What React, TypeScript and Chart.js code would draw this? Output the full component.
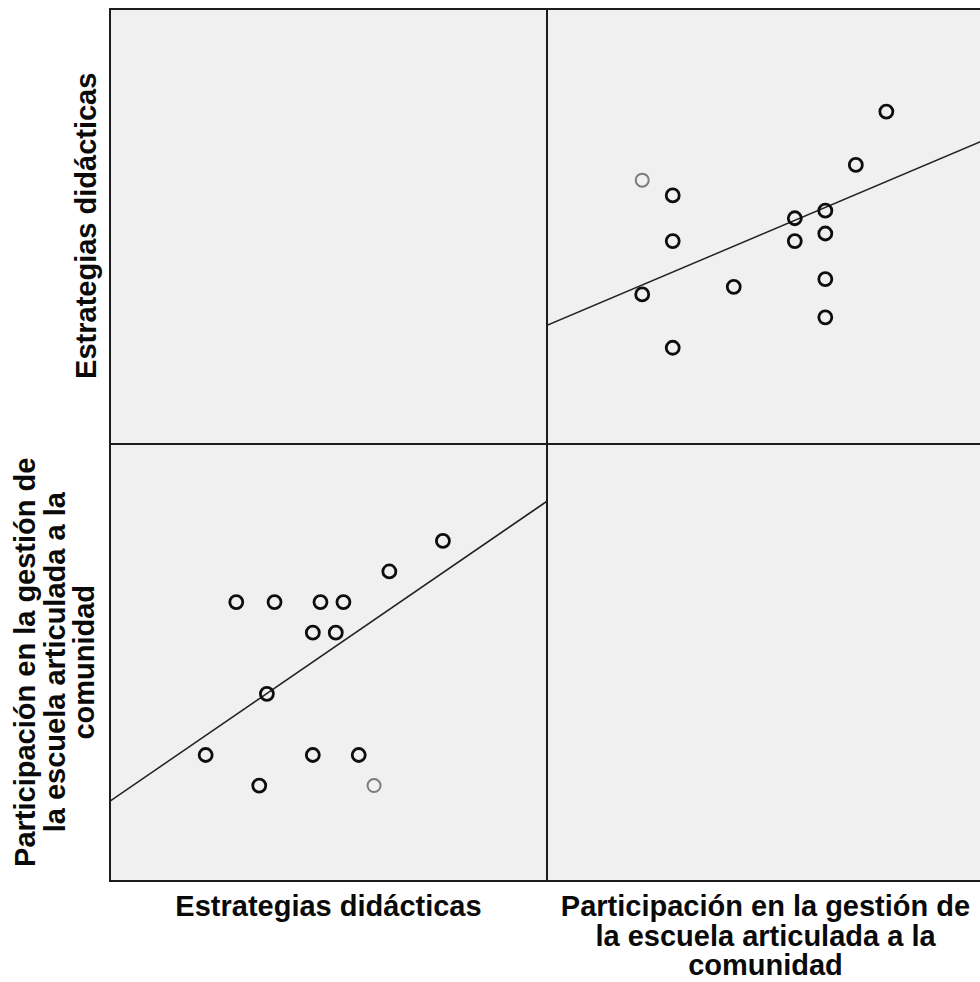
import React, { useEffect, useRef } from "react";
import { Chart, registerables } from "chart.js";

Chart.register(...registerables);

// ---- Data (one entry per plotted case) ----
const estrategias = [49, 54, 60, 63, 59, 62, 69, 76, 53, 45, 59, 65, 52, 67];
const participacion = [26, 26, 26, 26, 25, 25, 27, 28, 23, 21, 21, 21, 20, 20];
// number of overlapping cases drawn at each marker (darker when >1)
const caseCounts = [2, 2, 2, 2, 2, 2, 2, 2, 2, 2, 2, 2, 2, 1];

// ---- Axis ranges (hidden axes in the SPSS matrix) ----
const estrategiasRange = [32.5, 89.6];
const participacionRange = [16.88, 31.2];

// ---- Linear fit lines ----
const fitParticipacionOnEstrategias = { intercept: 13.907, slope: 0.17175 };
const fitEstrategiasOnParticipacion = { intercept: 19.3, slope: 1.697 };

// ---- Labels ----
const estrategiasTitle = ["Estrategias didácticas"];
const participacionTitle = [
  "Participación en la gestión de",
  "la escuela articulada a la",
  "comunidad",
];

type Fit = { intercept: number; slope: number };

function ScatterPanel(props: {
  left: number;
  top: number;
  width: number;
  height: number;
  xs: number[];
  ys: number[];
  counts: number[];
  xRange: number[];
  yRange: number[];
  fit: Fit;
}) {
  const ref = useRef<HTMLCanvasElement | null>(null);
  const { left, top, width, height, xs, ys, counts, xRange, yRange, fit } = props;
  useEffect(() => {
    if (!ref.current) return;
    const pts = xs.map((x, i) => ({ x, y: ys[i] }));
    const line = xRange.map((x) => ({ x, y: fit.intercept + fit.slope * x }));
    const chart = new Chart(ref.current, {
      type: "scatter",
      data: {
        datasets: [
          {
            type: "line",
            data: line,
            borderColor: "#222222",
            borderWidth: 1.6,
            pointRadius: 0,
            fill: false,
            order: 1,
          } as any,
          {
            data: pts,
            pointRadius: 6.5,
            pointBorderWidth: counts.map((c) => (c > 1 ? 2.8 : 2)),
            pointBorderColor: counts.map((c) => (c > 1 ? "#0d0d0d" : "#7c7c7c")),
            pointBackgroundColor: "rgba(0,0,0,0)",
            order: 0,
          } as any,
        ],
      },
      options: {
        responsive: false,
        maintainAspectRatio: false,
        animation: false,
        events: [],
        layout: { padding: 0, autoPadding: false },
        scales: {
          x: { type: "linear", display: false, min: xRange[0], max: xRange[1] },
          y: { type: "linear", display: false, min: yRange[0], max: yRange[1] },
        },
        plugins: {
          legend: { display: false },
          tooltip: { enabled: false },
        },
      },
    });
    return () => chart.destroy();
  }, []);
  return (
    <canvas
      ref={ref}
      width={width}
      height={height}
      style={{ position: "absolute", left, top, width, height, display: "block" }}
    />
  );
}

const FONT = '"Liberation Sans", Arial, Helvetica, sans-serif';
const LH = 29.5;

function HTitle({ lines, left, width, top }: { lines: string[]; left: number; width: number; top: number }) {
  return (
    <div
      style={{
        position: "absolute",
        left,
        top,
        width,
        textAlign: "center",
        font: `bold 29px ${FONT}`,
        lineHeight: `${LH}px`,
        color: "#0a0a0a",
        whiteSpace: "nowrap",
      }}
    >
      {lines.map((l, i) => (
        <div key={i}>{l}</div>
      ))}
    </div>
  );
}

function VTitle({ lines, cx, cy, length }: { lines: string[]; cx: number; cy: number; length: number }) {
  const h = lines.length * LH;
  return (
    <div
      style={{
        position: "absolute",
        left: cx - length / 2,
        top: cy - h / 2,
        width: length,
        height: h,
        textAlign: "center",
        font: `bold 29px ${FONT}`,
        lineHeight: `${LH}px`,
        color: "#0a0a0a",
        whiteSpace: "nowrap",
        transform: "rotate(-90deg)",
        transformOrigin: "50% 50%",
      }}
    >
      {lines.map((l, i) => (
        <div key={i}>{l}</div>
      ))}
    </div>
  );
}

export default function App() {
  const L = 110;
  const M = 547;
  const R = 984;
  const T = 8;
  const H = 443;
  const B = 881;
  const lineColor = "#1c1c1c";
  return (
    <div
      style={{
        position: "fixed",
        left: 0,
        top: 0,
        width: 980,
        height: 982,
        overflow: "hidden",
        background: "#ffffff",
      }}
    >
      <div
        style={{
          position: "absolute",
          left: L,
          top: T,
          width: R - L,
          height: B - T,
          background: "#f0f0f0",
        }}
      />
      {/* top-right: Estrategias (y) vs Participación (x) */}
      <ScatterPanel
        left={M}
        top={T}
        width={R - M}
        height={H - T}
        xs={participacion}
        ys={estrategias}
        counts={caseCounts}
        xRange={participacionRange}
        yRange={estrategiasRange}
        fit={fitEstrategiasOnParticipacion}
      />
      {/* bottom-left: Participación (y) vs Estrategias (x) */}
      <ScatterPanel
        left={L}
        top={H}
        width={M - L}
        height={B - H}
        xs={estrategias}
        ys={participacion}
        counts={caseCounts}
        xRange={estrategiasRange}
        yRange={participacionRange}
        fit={fitParticipacionOnEstrategias}
      />
      {/* frame lines */}
      <div style={{ position: "absolute", left: L - 1, top: T, width: 2, height: B - T + 1, background: lineColor }} />
      <div style={{ position: "absolute", left: M - 1, top: T, width: 2, height: B - T + 1, background: lineColor }} />
      <div style={{ position: "absolute", left: L - 1, top: T, width: R - L + 2, height: 2, background: lineColor }} />
      <div style={{ position: "absolute", left: L - 1, top: H, width: R - L + 2, height: 2, background: lineColor }} />
      <div style={{ position: "absolute", left: L - 1, top: B - 1, width: R - L + 2, height: 2, background: lineColor }} />

      {/* titles */}
      <HTitle lines={estrategiasTitle} left={L} width={M - L} top={892} />
      <HTitle lines={participacionTitle} left={M} width={R - M} top={892} />
      <VTitle lines={estrategiasTitle} cx={86} cy={(T + H) / 2} length={H - T} />
      <VTitle lines={participacionTitle} cx={55} cy={(H + B) / 2} length={B - H} />
    </div>
  );
}
